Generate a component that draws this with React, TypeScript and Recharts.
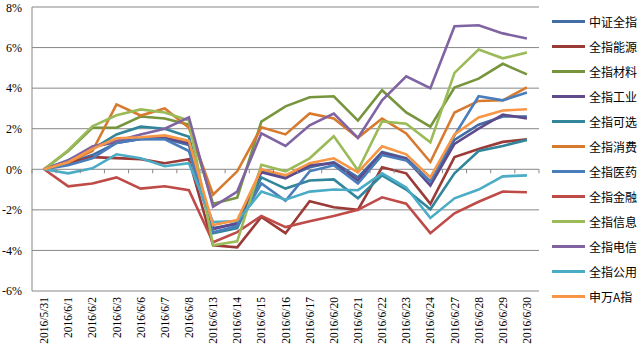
import { LineChart, Line, XAxis, YAxis, CartesianGrid } from "recharts";

const dates = [
  "2016/5/31", "2016/6/1", "2016/6/2", "2016/6/3", "2016/6/6", "2016/6/7", "2016/6/8",
  "2016/6/13", "2016/6/14", "2016/6/15", "2016/6/16", "2016/6/17", "2016/6/20", "2016/6/21",
  "2016/6/22", "2016/6/23", "2016/6/24", "2016/6/27", "2016/6/28", "2016/6/29", "2016/6/30",
];

// 累计涨跌幅 (%)
const zzqz = [0, 0.3, 0.7, 1.3, 1.5, 1.5, 1.2, -2.9, -2.7, -0.1, -0.4, 0.1, 0.35, -0.4, 0.85, 0.55, -0.6, 1.45, 2.2, 2.6, 2.6];
const nengyuan = [0, 0.3, 0.6, 0.55, 0.5, 0.3, 0.5, -3.75, -3.85, -2.35, -3.15, -1.57, -1.87, -2.0, 0.1, -0.2, -1.7, 0.6, 1.0, 1.35, 1.48];
const cailiao = [0, 0.9, 2.05, 2.05, 2.6, 2.5, 2.2, -1.7, -1.4, 2.35, 3.1, 3.55, 3.6, 2.4, 3.9, 2.8, 2.1, 4.03, 4.47, 5.2, 4.68];
const gongye = [0, 0.35, 1.1, 1.35, 1.5, 1.55, 1.3, -2.95, -2.65, -0.15, -0.45, 0.2, 0.3, -0.55, 0.8, 0.5, -0.8, 1.25, 2.0, 2.7, 2.5];
const kexuan = [0, 0.45, 1.0, 1.72, 2.1, 2.0, 1.6, -3.15, -2.9, -0.4, -0.95, -0.55, -0.5, -1.43, -0.3, -1.0, -1.97, -0.2, 0.9, 1.15, 1.45];
const xiaofei = [0, 0.35, 0.9, 3.2, 2.65, 3.0, 2.05, -1.25, -0.1, 2.07, 1.72, 2.75, 2.5, 1.55, 2.5, 1.77, 0.36, 2.8, 3.37, 3.4, 4.04];
const yiyao = [0, 0.2, 0.54, 1.3, 1.5, 1.48, 0.9, -3.1, -2.8, -0.7, -1.55, -0.1, 0.2, -0.7, 0.7, 0.44, -0.6, 1.67, 3.6, 3.4, 3.78];
const jinrong = [0, -0.84, -0.7, -0.4, -0.95, -0.84, -1.03, -3.6, -3.1, -2.3, -2.85, -2.56, -2.3, -2.0, -1.38, -1.7, -3.15, -2.17, -1.6, -1.1, -1.13];
const xinxi = [0, 0.94, 2.12, 2.66, 2.95, 2.8, 2.4, -3.75, -3.55, 0.22, -0.1, 0.54, 1.63, -0.05, 2.36, 2.25, 1.33, 4.75, 5.9, 5.47, 5.76];
const dianxin = [0, 0.44, 1.13, 1.4, 1.72, 2.0, 2.56, -1.85, -1.1, 1.77, 1.15, 2.17, 2.75, 1.55, 3.4, 4.58, 4.0, 7.05, 7.1, 6.7, 6.45];
const gongyong = [0, -0.2, 0.05, 0.74, 0.54, 0.15, 0.3, -2.6, -2.55, -1.1, -1.5, -1.1, -1.0, -1.03, -0.2, -0.9, -2.4, -1.43, -1.0, -0.35, -0.3];
const swaz = [0, 0.35, 1.0, 1.53, 1.58, 1.67, 1.4, -2.75, -2.5, 0.0, -0.3, 0.3, 0.54, -0.15, 1.13, 0.74, -0.4, 1.72, 2.55, 2.9, 2.96];

const yTicks = [-6, -4, -2, 0, 2, 4, 6, 8];

const series = [
  { key: "zzqz", name: "中证全指", values: zzqz, color: "#416CA6" },
  { key: "nengyuan", name: "全指能源", values: nengyuan, color: "#9B3B38" },
  { key: "cailiao", name: "全指材料", values: cailiao, color: "#77953D" },
  { key: "gongye", name: "全指工业", values: gongye, color: "#5F4B8B" },
  { key: "kexuan", name: "全指可选", values: kexuan, color: "#31869B" },
  { key: "xiaofei", name: "全指消费", values: xiaofei, color: "#D87A2E" },
  { key: "yiyao", name: "全指医药", values: yiyao, color: "#4A7EBB" },
  { key: "jinrong", name: "全指金融", values: jinrong, color: "#BE4B48" },
  { key: "xinxi", name: "全指信息", values: xinxi, color: "#9BBB59" },
  { key: "dianxin", name: "全指电信", values: dianxin, color: "#8064A2" },
  { key: "gongyong", name: "全指公用", values: gongyong, color: "#4BACC6" },
  { key: "swaz", name: "申万A指", values: swaz, color: "#F79646" },
];

const data = dates.map((d, i) => {
  const row: Record<string, any> = { date: d };
  series.forEach((s) => (row[s.key] = s.values[i]));
  return row;
});

// layout
const W = 640;
const H = 357;
const M = { top: 7, right: 101, bottom: 0, left: 0 };
const X_H = 66;
const Y_W = 32;
const PLOT_W = W - M.left - M.right - Y_W;
const PLOT_H = H - M.top - M.bottom - X_H;
const STEP = PLOT_W / dates.length;
// 0% 线距图区底部的高度
const ZERO_UP = (PLOT_H * (0 - -6)) / (8 - -6);

const grid = "#878787";
const serif = "'Liberation Serif', 'Times New Roman', serif";

function DateTick(props: any) {
  const { x, y, payload, index } = props;
  const left = x - STEP / 2;
  return (
    <g>
      {/* 0%线上的刻度 */}
      <line x1={left} x2={left} y1={y - ZERO_UP} y2={y - ZERO_UP + 4} stroke={grid} />
      {index === dates.length - 1 && (
        <line x1={x + STEP / 2} x2={x + STEP / 2} y1={y - ZERO_UP} y2={y - ZERO_UP + 4} stroke={grid} />
      )}
      <g transform={`translate(${x},${y})`}>
        <text
          transform="rotate(-90)"
          x={-6}
          y={4}
          textAnchor="end"
          fontSize={11.5}
          style={{ fontFamily: serif }}
          fill="#000"
        >
          {payload.value}
        </text>
      </g>
    </g>
  );
}

function LegendList() {
  return (
    <div style={{ position: "absolute", left: 552, top: 9, display: "flex", flexDirection: "column" }}>
      {series.map((s) => (
        <div key={s.key} style={{ display: "flex", alignItems: "center", height: 25 }}>
          <div style={{ width: 33, height: 3, background: s.color, marginRight: 4 }} />
          <span
            style={{
              fontSize: 12,
              lineHeight: "12px",
              color: "#000",
              fontFamily: "'Noto Sans CJK SC', sans-serif",
              whiteSpace: "nowrap",
            }}
          >
            {s.name}
          </span>
        </div>
      ))}
    </div>
  );
}

export default function App() {
  return (
    <div style={{ position: "absolute", left: 0, top: 0, width: W, height: H, background: "#fff" }}>
      <LineChart width={W} height={H} data={data} margin={M}>
        <CartesianGrid vertical={false} stroke={grid} strokeWidth={1} />
        <XAxis
          dataKey="date"
          scale="band"
          interval={0}
          axisLine={false}
          tickLine={false}
          tickSize={0}
          tickMargin={0}
          height={X_H}
          tick={<DateTick />}
        />
        <YAxis
          domain={[-6, 8]}
          ticks={yTicks}
          width={Y_W}
          axisLine={{ stroke: grid }}
          tickLine={false}
          tickMargin={4}
          tickFormatter={(v) => `${v}%`}
          tick={{ fill: "#000", fontSize: 12, style: { fontFamily: serif } }}
        />
        {series.map((s) => (
          <Line
            key={s.key}
            type="linear"
            dataKey={s.key}
            name={s.name}
            stroke={s.color}
            strokeWidth={2.6}
            dot={false}
            activeDot={false}
            isAnimationActive={false}
          />
        ))}
      </LineChart>
      <LegendList />
    </div>
  );
}
